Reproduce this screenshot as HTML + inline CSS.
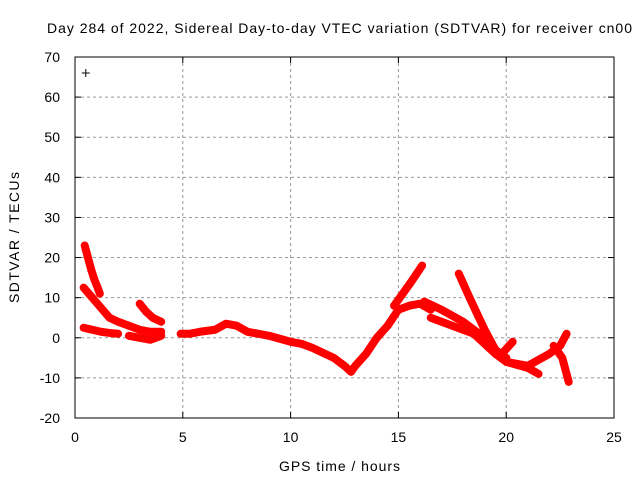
<!DOCTYPE html>
<html><head><meta charset="utf-8"><style>
body{margin:0;background:#fff;}
svg text{font-family:"Liberation Sans",sans-serif;font-size:14px;fill:#000;}
</style></head><body>
<svg width="640" height="480">
<rect width="640" height="480" fill="#fff"/>
<g id="grid"></g>
<g id="series"></g>
<rect x="75" y="57" width="539" height="361" fill="none" stroke="#000" stroke-width="1"/>
<g id="ticks"></g>
<text x="47" y="33" textLength="585" lengthAdjust="spacing">Day 284 of 2022, Sidereal Day-to-day VTEC variation (SDTVAR) for receiver cn00</text>
<text x="279" y="471" textLength="121" lengthAdjust="spacing">GPS time / hours</text>
<text transform="translate(19,303) rotate(-90)" textLength="131" lengthAdjust="spacing">SDTVAR / TECUs</text>
</svg>
<script>
const xTicks=[0,5,10,15,20,25];
const yTicks=[-20,-10,0,10,20,30,40,50,60,70];
const seriesT=[
[0.45,0.6,0.75,0.9,1.05,1.15],
[0.4,0.8,1.2,1.6,2,2.5,3,3.5,4],
[3.0,3.3,3.6,4.0],
[0.4,0.8,1.2,1.6,2.0],
[2.5,3.0,3.5,4.0],
[4.9,5.3,5.8,6.5,7,7.5,8,9,10,10.5,11,12,12.5,12.8,13,13.5,14,14.5,15,15.5,16,16.5],
[14.8,15.2,15.6,16.1],
[16.2,17,18,19,19.5,20,21,22,22.5,22.8],
[16.5,17.5,18.5,19.5,20],
[17.8,18.3,19,19.5,20],
[20,21,21.5],
[22.2,22.6,22.9],
[19.8,20.3]
];
const seriesV=[
[23,20,17,14.5,12.5,11],
[12.5,10,7.5,5,4,3,2,1.5,1.5],
[8.5,6.5,5,4],
[2.5,2,1.5,1.2,1],
[0.5,0,-0.5,0.5],
[1,1,1.5,2,3.5,3,1.5,0.5,-1,-1.5,-2.5,-5,-7,-8.5,-7,-4,0,3,7,8,8.5,7],
[8,11,14,18],
[9,7,4,0,-4,-6,-7,-4,-2,1],
[5,3,1,-4,-5],
[16,10,2,-3,-5],
[-6,-7.5,-9],
[-2,-5,-11],
[-4,-1]
];
const outT=[0.5], outV=[66];
const X=t=>75+t*539/25, Y=v=>57+(70-v)*361/90;
const NS="http://www.w3.org/2000/svg";
const grid=document.getElementById('grid'),ticks=document.getElementById('ticks'),ser=document.getElementById('series');
function mk(tag,at,par){const e=document.createElementNS(NS,tag);for(const k in at)e.setAttribute(k,at[k]);par.appendChild(e);return e;}
xTicks.forEach(t=>{const x=X(t);
 if(t>0&&t<25){const g=mk('line',{x1:x,x2:x,y1:57,y2:418,stroke:'#999','stroke-dasharray':'3,3'},grid);
 
 }
 mk('line',{x1:x,x2:x,y1:418,y2:412,stroke:'#000'},ticks);mk('line',{x1:x,x2:x,y1:57,y2:63,stroke:'#000'},ticks);
 const tx=mk('text',{x:x,y:442,'text-anchor':'middle'},ticks);tx.textContent=t;
 
 });
yTicks.forEach(v=>{const y=Y(v);
 if(v>-20&&v<70){const g=mk('line',{x1:75,x2:614,y1:y,y2:y,stroke:'#999','stroke-dasharray':'3,3'},grid);
 
 }
 mk('line',{x1:75,x2:81,y1:y,y2:y,stroke:'#000'},ticks);mk('line',{x1:608,x2:614,y1:y,y2:y,stroke:'#000'},ticks);
 const tx=mk('text',{x:60,y:y+5,'text-anchor':'end'},ticks);tx.textContent=v;
 
 });
seriesT.forEach((ts,i)=>{const vs=seriesV[i];
 const p=mk('polyline',{points:ts.map((t,j)=>X(t)+','+Y(vs[j])).join(' '),fill:'none',stroke:'#f00','stroke-width':8,'stroke-linejoin':'round','stroke-linecap':'round'},ser);
 
 });
outT.forEach((t,i)=>{const x=X(t),y=Y(outV[i]);
 const p=mk('path',{d:`M${x-4},${y}h8M${x},${y-4}v8`,stroke:'#000','stroke-width':1},ser);
 
 });
</script>
</body></html>
